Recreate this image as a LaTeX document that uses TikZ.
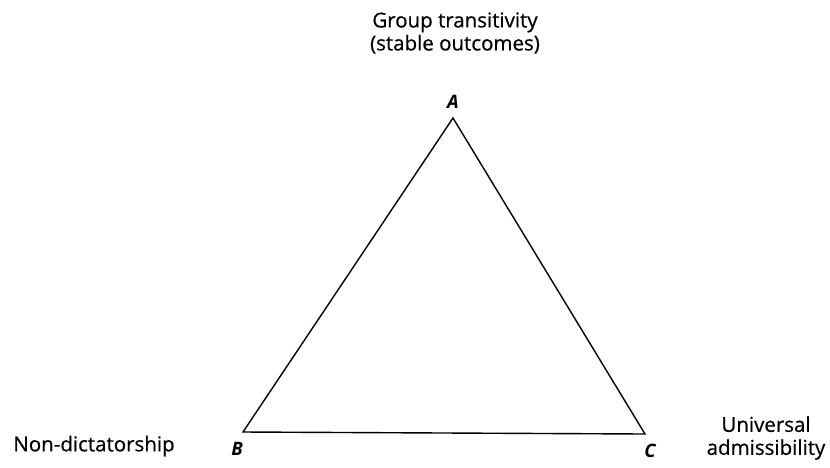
\documentclass[tikz,border=0pt]{standalone}
\usepackage{fontspec}
\setmainfont{Open Sans}
\newfontfamily\labelfont[FakeBold=0.6]{Open Sans}
\usetikzlibrary{positioning}

\begin{document}
\begin{tikzpicture}[x=1pt, y=-1pt, every node/.style={font=\labelfont\fontsize{20.5}{23}\selectfont, inner sep=0pt},
  vlabel/.style={font=\fontsize{18.5}{21}\selectfont\bfseries\itshape}]
  \useasboundingbox (0,0) rectangle (830,467);
  \coordinate (a) at (453,118);
  \coordinate (b) at (243,432);
  \coordinate (c) at (645,434);
  \draw[line width=1.4pt, line join=miter] (a) -- (b) -- (c) -- cycle;
  \node[vlabel] (la) at (453,102) {A};
  \node[vlabel] (lb) at (237,449) {B};
  \node[vlabel] (lc) at (650,451) {C};
  \node[align=center] (top) at (455,33) {Group transitivity\\(stable outcomes)};
  \node (nd) at (94,446) {Non-dictatorship};
  \node[align=center] (ua) at (766,438) {Universal\\admissibility};
\end{tikzpicture}
\end{document}
